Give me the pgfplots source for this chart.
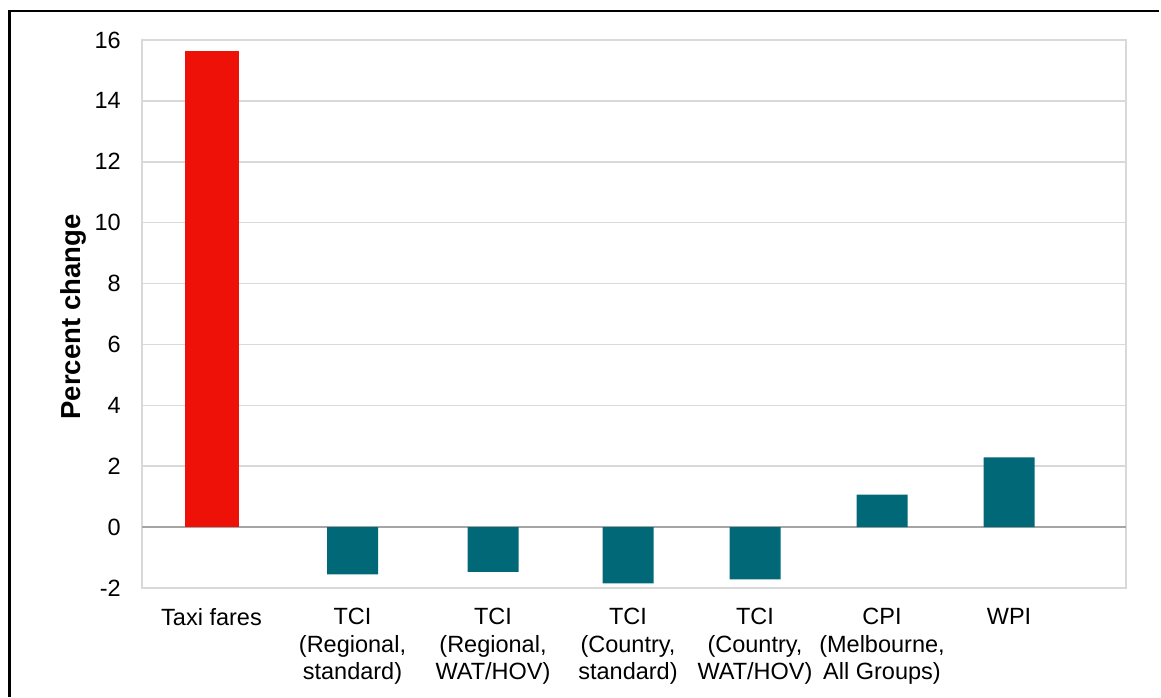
\documentclass[border=0pt]{standalone}
\usepackage{pgfplots}
\pgfplotsset{compat=1.18}
\usepackage{fontspec}
\setmainfont{Liberation Sans}
\definecolor{barred}{RGB}{237,17,8}
\definecolor{barteal}{RGB}{0,104,119}
\definecolor{gridgray}{RGB}{217,217,217}
\definecolor{zerogray}{RGB}{165,165,165}
\begin{document}
\begin{tikzpicture}
\useasboundingbox (0pt,0pt) rectangle (1161pt,697pt);
\draw[black, line width=2.4pt] (9.5pt,0pt) -- (9.5pt,686pt) -- (1159pt,686pt);
\begin{axis}[
  at={(142pt,109pt)}, anchor=south west,
  scale only axis, width=984pt, height=548pt,
  xmin=142, xmax=1126, ymin=-2, ymax=16,
  ytick={-2,0,...,16},
  xtick={211.5,352.5,493,628,755,882,1009},
  xticklabels={{Taxi fares}, {TCI\\(Regional,\\standard)}, {TCI\\(Regional,\\WAT/HOV)}, {TCI\\(Country,\\standard)}, {TCI\\(Country,\\WAT/HOV)}, {CPI\\(Melbourne,\\All Groups)}, {WPI}},
  xticklabel style={align=center, font=\fontsize{23.5}{27.5}\selectfont, inner sep=0pt, yshift=-20pt},
  yticklabel style={font=\fontsize{23.5}{27.5}\selectfont, inner sep=0pt, xshift=-21pt},
  /pgf/number format/assume math mode=true,
  major tick length=0pt,
  axis line style={gridgray, line width=1.5pt},
  ymajorgrids, grid style={gridgray, line width=1.5pt},
  extra y ticks={0}, extra y tick labels={},
  extra y tick style={grid style={zerogray, line width=2pt}},
  ylabel={\bfseries Percent change},
  ylabel style={at={(axis description cs:-0.0700,0.4945)}, anchor=center, font=\fontsize{27.5}{30}\selectfont},
  ybar, bar shift=0pt,
  clip=false,
]
\addplot[fill=barred, draw=none, bar width=54] coordinates {(211.5,15.65)};
\addplot[fill=barteal, draw=none, bar width=51] coordinates {
  (352.5,-1.55) (493,-1.47) (628,-1.85) (755,-1.72) (882,1.07) (1009,2.29)};
\end{axis}
\end{tikzpicture}
\end{document}
